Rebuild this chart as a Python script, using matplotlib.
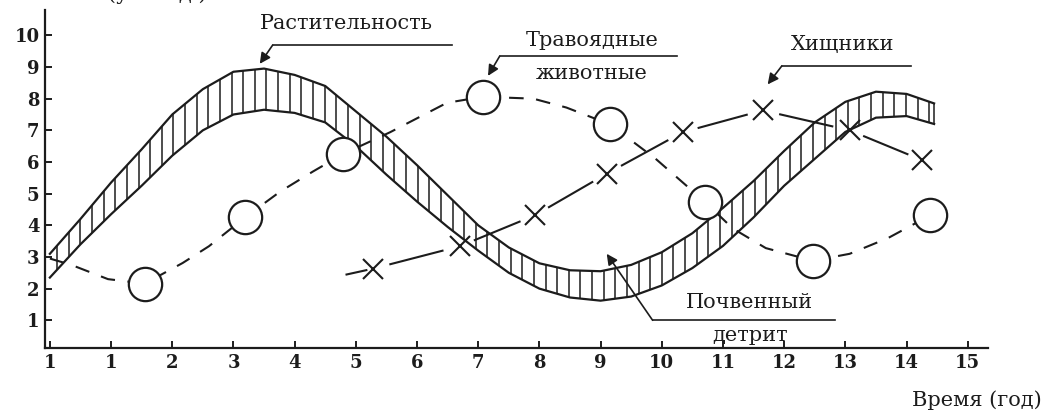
import matplotlib
matplotlib.use('Agg')
import matplotlib.pyplot as plt
import numpy as np

plt.rcParams['font.family'] = ['DejaVu Serif']

# Растительность: верхняя и нижняя граница полосы
veg_x = [0, 0.5, 1.0, 1.5, 2.0, 2.5, 3.0, 3.5, 4.0, 4.5, 5.0, 5.5, 6.0, 6.5, 7.0,
         7.5, 8.0, 8.5, 9.0, 9.5, 10.0, 10.5, 11.0, 11.5, 12.0, 12.5, 13.0, 13.5, 14.0, 14.45]
veg_upper = [3.1, 4.2, 5.35, 6.4, 7.5, 8.3, 8.85, 8.95, 8.75, 8.4, 7.6, 6.8, 5.9, 4.95, 4.0,
             3.3, 2.8, 2.58, 2.55, 2.75, 3.15, 3.75, 4.55, 5.4, 6.35, 7.25, 7.9, 8.22, 8.15, 7.85]
veg_lower = [2.35, 3.4, 4.35, 5.25, 6.2, 7.0, 7.5, 7.65, 7.55, 7.25, 6.5, 5.6, 4.75, 3.95, 3.2,
             2.5, 2.0, 1.72, 1.62, 1.75, 2.1, 2.65, 3.35, 4.25, 5.25, 6.1, 6.95, 7.4, 7.45, 7.2]

# Травоядные животные
herb_x = [1.55, 3.19, 4.79, 7.08, 9.15, 10.7, 12.47, 14.38]
herb_y = [2.16, 4.25, 6.25, 8.06, 7.19, 4.75, 2.88, 4.31]
herb_line_x = [0, 0.35, 0.95, 1.55, 2.17, 2.6, 3.19, 3.76, 4.3, 4.79, 5.56, 6.49, 7.08, 7.9,
               8.44, 9.15, 9.9, 10.7, 11.16, 11.7, 12.47, 13.07, 13.7, 14.38]
herb_line_y = [2.95, 2.75, 2.3, 2.16, 2.81, 3.34, 4.25, 5.06, 5.7, 6.25, 6.94, 7.87, 8.06, 8.0,
               7.72, 7.19, 6.1, 4.75, 3.9, 3.28, 2.88, 3.1, 3.6, 4.31]

# Хищники
pred_x = [5.28, 6.7, 7.92, 9.1, 10.34, 11.65, 13.07, 14.25]
pred_y = [2.63, 3.34, 4.31, 5.63, 6.94, 7.63, 7.0, 6.06]
pred_start = (4.74, 2.4)

# Почвенный детрит
det_x = [6.9, 7.48, 8.06, 8.77, 9.48, 10.25, 10.83, 11.7, 12.25, 12.8, 13.45, 13.9, 14.33]
det_y = [2.34, 2.66, 2.94, 3.34, 3.97, 4.69, 5.37, 6.56, 7.15, 7.4, 7.4, 7.25, 6.69]

x_ticks = list(range(16))
x_labels = ['1', '1'] + [str(i) for i in range(2, 16)]
y_ticks = list(range(1, 11))

ink = '#1c1c1c'

fig = plt.figure(figsize=(10.46, 4.13), dpi=100)
ax = fig.add_axes([0.043, 0.157, 0.9015, 0.818])

# полоса растительности со штриховкой
ax.plot(veg_x, veg_upper, color=ink, lw=1.6, solid_joinstyle='round', zorder=3)
ax.plot(veg_x, veg_lower, color=ink, lw=1.6, solid_joinstyle='round', zorder=3)
hx = np.arange(0.12, 14.45, 0.19)
ax.vlines(hx, np.interp(hx, veg_x, veg_lower), np.interp(hx, veg_x, veg_upper),
          color=ink, lw=1.1, zorder=3)
ax.vlines([veg_x[-1]], [veg_lower[-1]], [veg_upper[-1]], color=ink, lw=1.1, zorder=3)

# травоядные
ax.plot(herb_line_x, herb_line_y, color=ink, lw=1.5, dashes=(7, 6), zorder=2)
ax.plot(herb_x, herb_y, ls='none', marker='o', ms=24, mfc='white', mec=ink, mew=1.6, zorder=5)

# хищники: отрезки с разрывами у крестиков
px_all = [pred_start[0]] + pred_x
py_all = [pred_start[1]] + pred_y
for i in range(len(px_all) - 1):
    x0, y0, x1, y1 = px_all[i], py_all[i], px_all[i + 1], py_all[i + 1]
    f = 0.2
    ax.plot([x0 + f * (x1 - x0), x1 - f * (x1 - x0)],
            [y0 + f * (y1 - y0), y1 - f * (y1 - y0)], color=ink, lw=1.5, zorder=4)
ax.plot(pred_x, pred_y, ls='none', marker='x', ms=14, mec=ink, mew=1.5, zorder=6)

# детрит
ax.plot(det_x, det_y, color=ink, lw=3.4, dashes=(0, 2.5), dash_capstyle='round', zorder=4)

# подписи со стрелками
arrow = dict(arrowstyle='-|>', color=ink, lw=1.2, mutation_scale=16, shrinkA=0, shrinkB=0)
fs = 15

ax.text(4.84, 10.37, 'Растительность', ha='center', va='center', fontsize=fs, color=ink)
ax.plot([3.64, 6.57], [9.69, 9.69], color=ink, lw=1.2, clip_on=False)
ax.annotate('', xy=(3.43, 9.1), xytext=(3.64, 9.69), arrowprops=arrow)

ax.text(8.86, 9.85, 'Травоядные', ha='center', va='center', fontsize=fs, color=ink)
ax.text(8.86, 8.81, 'животные', ha='center', va='center', fontsize=fs, color=ink)
ax.plot([7.35, 10.25], [9.34, 9.34], color=ink, lw=1.2)
ax.annotate('', xy=(7.16, 8.72), xytext=(7.35, 9.34), arrowprops=arrow)

ax.text(12.96, 9.72, 'Хищники', ha='center', va='center', fontsize=fs, color=ink)
ax.plot([11.96, 14.08], [9.03, 9.03], color=ink, lw=1.2)
ax.annotate('', xy=(11.73, 8.45), xytext=(11.96, 9.03), arrowprops=arrow)

ax.text(11.44, 1.55, 'Почвенный', ha='center', va='center', fontsize=fs, color=ink)
ax.text(11.44, 0.52, 'детрит', ha='center', va='center', fontsize=fs, color=ink)
ax.plot([9.85, 12.83], [1.0, 1.0], color=ink, lw=1.2)
ax.annotate('', xy=(9.1, 3.1), xytext=(9.85, 1.0), arrowprops=arrow)

# оси
ax.set_xlim(-0.08, 15.33)
ax.set_ylim(0.12, 10.79)
ax.spines['top'].set_visible(False)
ax.spines['right'].set_visible(False)
for s in ['left', 'bottom']:
    ax.spines[s].set_linewidth(1.6)
    ax.spines[s].set_color(ink)
ax.set_xticks(x_ticks)
ax.set_xticklabels(x_labels)
ax.set_yticks(y_ticks)
ax.tick_params(direction='in', length=5, width=1.4, color=ink, labelsize=13,
               labelcolor=ink, pad=4)
for lab in ax.get_xticklabels() + ax.get_yticklabels():
    lab.set_fontweight('bold')

fig.text(0.996, 0.03, 'Время (год)', ha='right', va='center', fontsize=fs, color=ink)
fig.text(-0.005, 0.99, 'Биомасса (усл. ед.)', ha='left', va='bottom', fontsize=fs, color=ink)

fig.savefig('out.png', dpi=100, facecolor='white')
